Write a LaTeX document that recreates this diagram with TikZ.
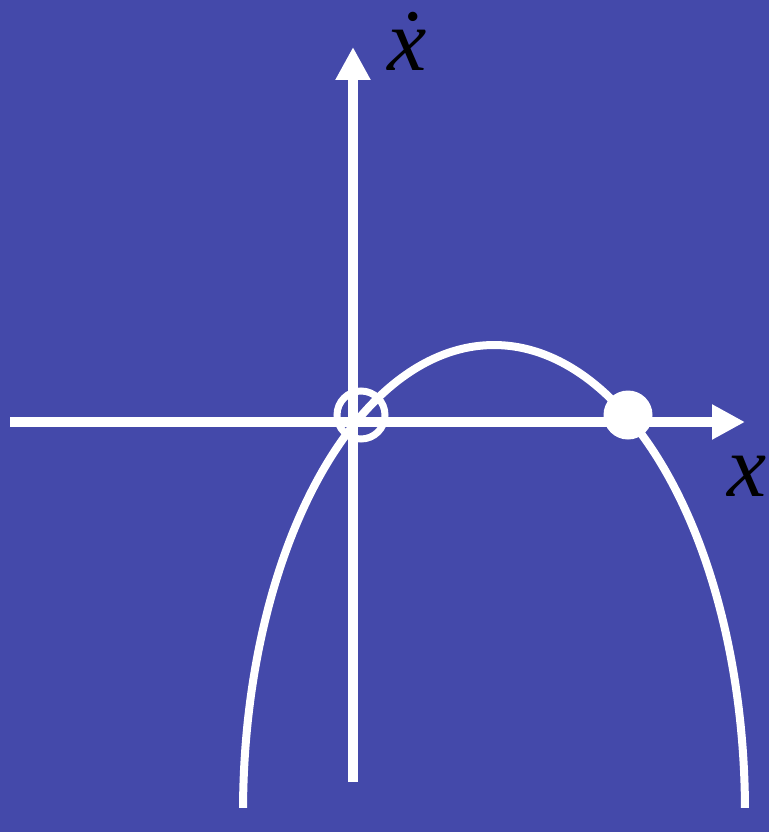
\documentclass[tikz,border=0pt]{standalone}
\usepackage{fontspec}
\setmainfont{Liberation Serif}
\usetikzlibrary{arrows.meta}
\definecolor{bgblue}{RGB}{68,73,170}
\tikzset{
  axisline/.style={white,line width=10pt,-{Triangle[length=33pt,width=33pt]}},
  curveline/.style={white,line width=8pt},
  openpt/.style={circle,draw=white,line width=7pt,minimum size=48pt,inner sep=0pt},
  fullpt/.style={circle,fill=white,minimum size=49pt,inner sep=0pt},
  lbl/.style={text=black,inner sep=0pt,font=\fontsize{88}{88}\selectfont\itshape}
}
\begin{document}
\begin{tikzpicture}[x=1pt,y=-1pt]
\useasboundingbox (0,0) rectangle (769,832);
\fill[bgblue] (0,0) rectangle (769,832);
\coordinate (xs) at (10,422);
\coordinate (xe) at (745,422);
\coordinate (ys) at (353,782);
\coordinate (ye) at (353,47);
\draw[axisline] (xs) -- (xe);
\draw[axisline] (ys) -- (ye);
\draw[curveline] plot[domain=179.5:0.5,samples=120,smooth] ({494+251*cos(\x)},{812-467*sin(\x)});
\node[openpt] (unst) at (361,415) {};
\node[fullpt] (st) at (628,415) {};
\node[lbl,anchor=base] (ylab) at (407,71) {\.{x}};
\node[lbl,anchor=base] (xlab) at (747,496) {x};
\end{tikzpicture}
\end{document}
